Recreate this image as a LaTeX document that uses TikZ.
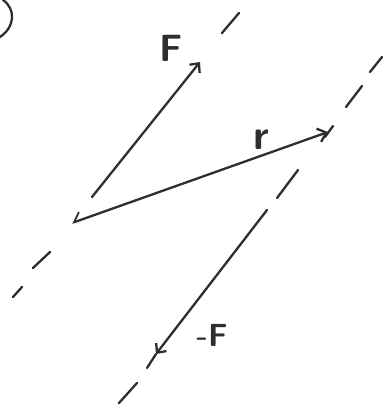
\documentclass[tikz,border=0pt]{standalone}
\usetikzlibrary{arrows.meta}
\begin{document}
\begin{tikzpicture}[x=1pt,y=-1pt,
  ink/.style={draw=black!82, line width=2.3pt, line cap=round},
  vec/.style={ink, -{Straight Barb[length=7pt,width=13pt,line width=2.3pt]}},
  lbl/.style={font=\sffamily\bfseries, text=black!82, inner sep=0pt}]
\useasboundingbox (0,0) rectangle (383,407);
% points
\coordinate (Ftail) at (92,197);
\coordinate (Ftip) at (200,62);
\coordinate (A) at (72,223);
\coordinate (B) at (328,132);
\coordinate (Mtail) at (267,210);
\coordinate (Mtip) at (156,354);
\coordinate (Mend) at (147,368);
% dashes of line 1
\coordinate (d1a) at (222,33); \coordinate (d1b) at (239,13);
\coordinate (d2a) at (50,252); \coordinate (d2b) at (33,268);
\coordinate (d3a) at (22,287); \coordinate (d3b) at (13,297);
% dashes of line 2
\coordinate (e1a) at (382,57); \coordinate (e1b) at (370,72);
\coordinate (e2a) at (362,86); \coordinate (e2b) at (346,107);
\coordinate (e3a) at (333,126); \coordinate (e3b) at (325,137);
\coordinate (e4a) at (298,170); \coordinate (e4b) at (277,198);
\coordinate (e5a) at (137,383); \coordinate (e5b) at (119,403);
% bracket at top left
\draw[ink] (3,0) .. controls (16,9) and (15,27) .. (0,37);
% dashed lines of action
\foreach \p in {d1,d2,d3,e1,e2,e3,e4,e5} \draw[ink] (\p a) -- (\p b);
% vectors
\draw[vec] (Ftail) -- (Ftip);
\draw[ink, {Straight Barb[harpoon,swap,length=8pt,width=16pt,line width=1.8pt]}-{Straight Barb[length=8pt,width=14pt,line width=2.3pt]}] (A) -- (B);
\draw[vec] (Mtail) -- (Mtip);
\draw[ink] (Mtip) -- (Mend);
% labels
\node[lbl, font=\sffamily\bfseries\fontsize{38}{38}\selectfont] (lF) at (171,48) {F};
\node[lbl, font=\sffamily\bfseries\fontsize{42}{42}\selectfont] (lr) at (261,140) {r};
\node[lbl, font=\sffamily\bfseries\fontsize{32}{32}\selectfont] (lmF) at (212,335) {-F};
\end{tikzpicture}
\end{document}
